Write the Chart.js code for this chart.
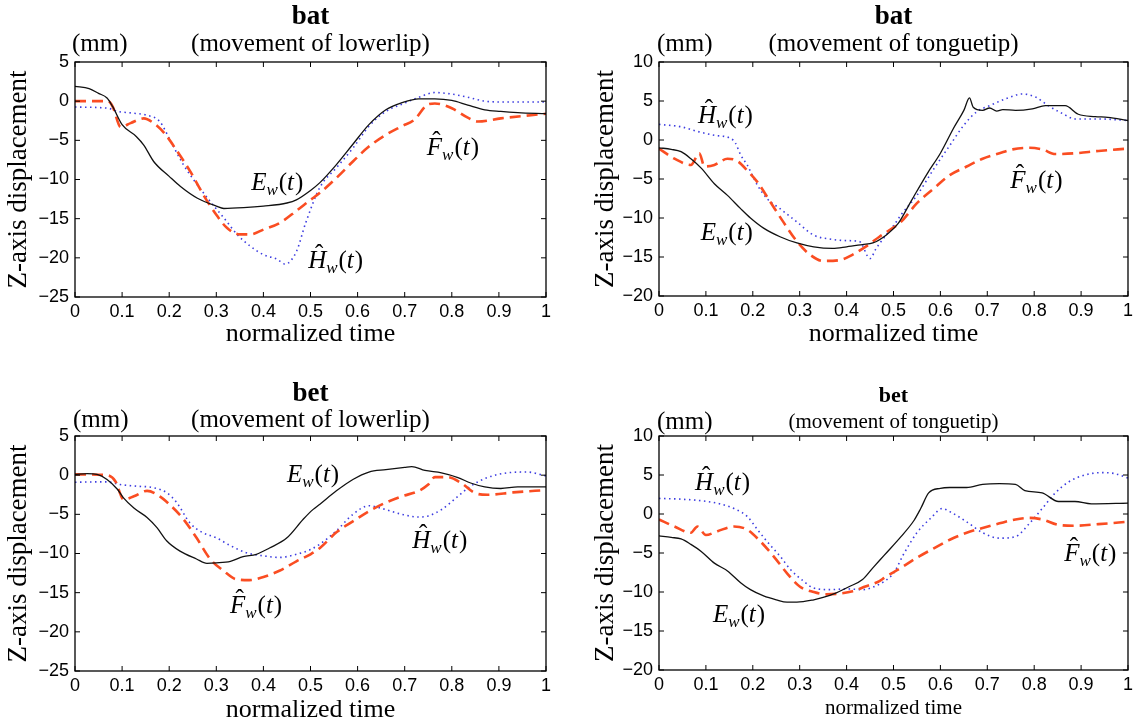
<!DOCTYPE html>
<html>
<head>
<meta charset="utf-8">
<script src="https://cdn.jsdelivr.net/npm/chart.js@4.4.1/dist/chart.umd.min.js"></script>
<style>
  body { margin: 0; background: #fff; width: 1137px; height: 723px; position: relative; overflow: hidden; }
  canvas { position: absolute; }
</style>
</head>
<body>
<canvas id="c1" width="568" height="361" style="left:0;top:0"></canvas>
<canvas id="c2" width="569" height="361" style="left:568px;top:0"></canvas>
<canvas id="c3" width="568" height="362" style="left:0;top:361px"></canvas>
<canvas id="c4" width="569" height="362" style="left:568px;top:361px"></canvas>
<script>
// [normalized time, displacement in mm]
const batLipE = [[0,1.9],[0.03,1.6],[0.05,1.0],[0.068,0.4],[0.08,-0.7],[0.1,-3.0],[0.13,-4.5],[0.146,-5.6],[0.167,-7.7],[0.2,-9.6],[0.224,-10.9],[0.26,-12.4],[0.3,-13.4],[0.316,-13.7],[0.358,-13.6],[0.4,-13.4],[0.45,-13.0],[0.47,-12.6],[0.5,-11.4],[0.52,-10.4],[0.555,-8.1],[0.59,-5.5],[0.624,-3.0],[0.66,-1.1],[0.694,-0.2],[0.73,0.3],[0.764,0.3],[0.8,0.1],[0.834,-0.5],[0.87,-1.1],[0.904,-1.3],[0.94,-1.45],[1,-1.6]];
const batLipF = [[0,0],[0.07,0],[0.08,-0.7],[0.097,-3.3],[0.118,-2.8],[0.146,-2.2],[0.167,-2.8],[0.19,-4.1],[0.217,-6.4],[0.245,-9.0],[0.273,-12.0],[0.3,-14.5],[0.323,-16.2],[0.35,-17.0],[0.372,-17.0],[0.4,-16.4],[0.436,-15.5],[0.47,-14.0],[0.5,-12.6],[0.52,-11.7],[0.555,-9.8],[0.59,-7.7],[0.624,-5.8],[0.66,-4.3],[0.694,-3.2],[0.72,-2.4],[0.75,-0.4],[0.764,-0.3],[0.8,-0.9],[0.834,-2.1],[0.855,-2.6],[0.904,-2.2],[1,-1.6]];
const batLipH = [[0,-0.75],[0.07,-0.9],[0.09,-1.3],[0.118,-1.5],[0.153,-1.8],[0.18,-2.6],[0.203,-5.1],[0.23,-8.1],[0.26,-10.7],[0.287,-12.8],[0.316,-14.9],[0.344,-17.0],[0.372,-18.5],[0.4,-19.6],[0.43,-20.2],[0.446,-20.8],[0.47,-19.2],[0.49,-15.5],[0.52,-11.0],[0.555,-8.5],[0.59,-6.0],[0.624,-3.2],[0.66,-1.3],[0.694,-0.4],[0.73,0.5],[0.764,1.1],[0.8,0.9],[0.834,0.5],[0.87,0],[0.904,-0.1],[1,-0.1]];

const batTongueE = [[0,-1.0],[0.026,-1.2],[0.047,-1.5],[0.068,-2.4],[0.09,-3.6],[0.118,-5.6],[0.146,-7.1],[0.174,-8.8],[0.195,-10.0],[0.223,-11.3],[0.258,-12.4],[0.294,-13.2],[0.33,-13.7],[0.37,-13.9],[0.4,-13.7],[0.434,-13.4],[0.456,-13.2],[0.484,-12.2],[0.51,-10.7],[0.537,-7.9],[0.572,-4.3],[0.6,-1.7],[0.628,1.5],[0.65,3.8],[0.662,5.4],[0.67,4.2],[0.69,3.8],[0.705,4.1],[0.72,3.7],[0.733,3.9],[0.76,3.8],[0.796,4.0],[0.824,4.4],[0.866,4.4],[0.894,3.3],[0.93,3.0],[0.957,2.9],[1,2.5]];
const batTongueF = [[0,-1.1],[0.033,-2.4],[0.068,-3.2],[0.086,-1.7],[0.097,-3.4],[0.118,-3.2],[0.146,-2.4],[0.167,-2.7],[0.188,-3.9],[0.21,-5.4],[0.237,-7.9],[0.265,-10.5],[0.294,-13.0],[0.322,-14.7],[0.35,-15.5],[0.385,-15.4],[0.413,-14.7],[0.44,-13.7],[0.47,-12.4],[0.49,-11.6],[0.516,-10.5],[0.55,-8.1],[0.586,-6.2],[0.62,-4.5],[0.656,-3.4],[0.69,-2.4],[0.726,-1.7],[0.754,-1.2],[0.79,-1.0],[0.817,-1.2],[0.845,-1.8],[0.887,-1.7],[0.937,-1.4],[1,-1.1]];
const batTongueH = [[0,2.0],[0.047,1.7],[0.082,1.1],[0.118,0.6],[0.153,0.2],[0.163,-0.4],[0.174,-1.9],[0.188,-3.2],[0.21,-5.8],[0.23,-7.5],[0.258,-8.8],[0.294,-10.5],[0.33,-12.2],[0.364,-12.7],[0.4,-12.9],[0.427,-13.0],[0.45,-15.2],[0.463,-13.9],[0.484,-12.2],[0.5,-11.0],[0.516,-9.6],[0.55,-7.1],[0.586,-3.7],[0.62,-0.7],[0.65,1.9],[0.677,3.6],[0.705,4.4],[0.74,5.3],[0.775,5.9],[0.803,5.5],[0.83,4.4],[0.86,3.4],[0.887,2.7],[0.937,2.7],[1,2.5]];

const betLipE = [[0,0.1],[0.026,0.2],[0.047,0.1],[0.068,-0.55],[0.09,-1.8],[0.103,-2.9],[0.125,-4.2],[0.153,-5.4],[0.174,-6.7],[0.195,-8.4],[0.223,-9.7],[0.258,-10.7],[0.28,-11.25],[0.3,-11.2],[0.33,-11.0],[0.357,-10.4],[0.385,-10.1],[0.413,-9.3],[0.45,-8.0],[0.485,-5.6],[0.505,-4.4],[0.52,-3.7],[0.555,-2.0],[0.59,-0.55],[0.624,0.4],[0.66,0.7],[0.7,1.0],[0.715,1.1],[0.743,0.6],[0.778,0.3],[0.813,-0.3],[0.84,-1.0],[0.87,-1.5],[0.904,-1.7],[0.94,-1.5],[1,-1.5]];
const betLipF = [[0,0.1],[0.068,0],[0.086,-0.8],[0.103,-3.1],[0.125,-2.7],[0.153,-2.0],[0.18,-2.7],[0.2,-3.7],[0.23,-5.6],[0.258,-8.0],[0.287,-10.7],[0.315,-12.2],[0.343,-13.3],[0.37,-13.4],[0.4,-13.0],[0.434,-12.2],[0.47,-11.0],[0.5,-10.1],[0.52,-9.3],[0.555,-7.3],[0.59,-5.9],[0.624,-4.6],[0.66,-3.5],[0.694,-2.7],[0.73,-2.0],[0.75,-1.2],[0.764,-0.25],[0.79,-0.25],[0.82,-1.0],[0.848,-2.25],[0.876,-2.5],[0.93,-2.2],[1,-1.9]];
const betLipH = [[0,-0.9],[0.068,-0.85],[0.096,-1.2],[0.13,-1.4],[0.167,-1.6],[0.195,-2.25],[0.216,-3.5],[0.244,-6.1],[0.27,-7.3],[0.3,-8.0],[0.33,-9.0],[0.364,-9.9],[0.4,-10.3],[0.434,-10.5],[0.47,-10.1],[0.5,-9.5],[0.52,-8.8],[0.555,-7.1],[0.59,-5.0],[0.624,-3.9],[0.66,-4.4],[0.694,-5.0],[0.73,-5.35],[0.75,-5.2],[0.778,-4.4],[0.813,-2.7],[0.84,-1.4],[0.876,-0.3],[0.918,0.3],[0.96,0.4],[1,-0.1]];

const betTongueE = [[0,-2.8],[0.026,-3.0],[0.047,-3.2],[0.068,-3.9],[0.09,-4.8],[0.118,-6.3],[0.146,-7.3],[0.174,-8.8],[0.195,-9.7],[0.223,-10.5],[0.25,-11.0],[0.273,-11.3],[0.294,-11.3],[0.33,-11.0],[0.35,-10.7],[0.378,-10.1],[0.406,-9.3],[0.434,-8.4],[0.456,-6.9],[0.48,-5.3],[0.516,-2.9],[0.544,-0.8],[0.558,0.7],[0.575,2.7],[0.6,3.3],[0.62,3.4],[0.656,3.4],[0.69,3.8],[0.726,3.9],[0.76,3.8],[0.78,3.0],[0.817,2.7],[0.852,1.6],[0.887,1.6],[0.922,1.3],[1,1.4]];
const betTongueF = [[0,-0.7],[0.033,-1.6],[0.068,-2.4],[0.082,-1.6],[0.1,-2.7],[0.125,-2.2],[0.16,-1.6],[0.188,-2.0],[0.216,-3.5],[0.244,-5.4],[0.273,-7.6],[0.3,-9.3],[0.33,-10.0],[0.357,-10.3],[0.385,-10.2],[0.413,-9.9],[0.44,-9.3],[0.47,-8.6],[0.48,-8.2],[0.516,-6.9],[0.55,-5.6],[0.586,-4.4],[0.62,-3.3],[0.656,-2.4],[0.69,-1.8],[0.726,-1.2],[0.76,-0.7],[0.79,-0.5],[0.817,-0.7],[0.852,-1.4],[0.887,-1.5],[0.937,-1.3],[1,-1.0]];
const betTongueH = [[0,2.0],[0.047,1.9],[0.09,1.7],[0.13,1.3],[0.167,0.5],[0.188,-0.3],[0.21,-2.0],[0.23,-3.5],[0.258,-5.4],[0.28,-7.1],[0.308,-8.6],[0.33,-9.5],[0.364,-9.7],[0.4,-9.6],[0.434,-9.7],[0.47,-9.0],[0.49,-8.2],[0.5,-7.6],[0.523,-5.0],[0.55,-2.4],[0.58,-0.5],[0.604,0.7],[0.62,0.3],[0.656,-1.0],[0.69,-2.4],[0.726,-3.1],[0.76,-2.9],[0.79,-1.2],[0.817,0.7],[0.845,2.7],[0.873,4.1],[0.908,5.0],[0.943,5.3],[0.97,5.2],[1,4.6]];

const seriesNames = ['E', 'F', 'H'];

const SERIF = '"Liberation Serif", "Times New Roman", serif';
const SANS = '"Liberation Sans", Arial, sans-serif';

const styles = {
  E: { color: '#111', width: 1.3, dash: [] },
  F: { color: '#fa4d22', width: 2.6, dash: [11, 6] },
  H: { color: '#3c3ce0', width: 1.6, dash: [1.5, 3.5] }
};

// panel layout; label anchors are in data units (left / baseline of the text)
const panels = [
  { id: 'c1', pad: { l: 75, t: 62, r: 22, b: 64 }, yMin: -25, yMax: 5,
    title: 'bat', sub: '(movement of lowerlip)', titleY: 17, subY: 44, mmX: 72,
    yTitleX: 19, xTitlePad: 14, scale: 1,
    data: [batLipE, batLipF, batLipH],
    notes: [['E', 0.374, -11.3], ['H', 0.495, -21.3], ['F', 0.747, -6.9]] },
  { id: 'c2', pad: { l: 91, t: 62, r: 8, b: 65 }, yMin: -20, yMax: 10,
    title: 'bat', sub: '(movement of tonguetip)', titleY: 17, subY: 44, mmX: 89,
    yTitleX: 38, xTitlePad: 14, scale: 1,
    data: [batTongueE, batTongueF, batTongueH],
    notes: [['H', 0.083, 2.2], ['E', 0.089, -12.8], ['F', 0.749, -6.15]] },
  { id: 'c3', pad: { l: 75, t: 75, r: 22, b: 52 }, yMin: -25, yMax: 5,
    title: 'bet', sub: '(movement of lowerlip)', titleY: 33, subY: 59, mmX: 73,
    yTitleX: 19, xTitlePad: 0, scale: 1,
    data: [betLipE, betLipF, betLipH],
    notes: [['E', 0.45, -0.9], ['H', 0.716, -9.3], ['F', 0.329, -17.6]] },
  { id: 'c4', pad: { l: 91, t: 75, r: 8, b: 53 }, yMin: -20, yMax: 10,
    title: 'bet', sub: '(movement of tonguetip)', titleY: 35, subY: 61, mmX: 89,
    yTitleX: 38, xTitlePad: 4, scale: 0.82,
    data: [betTongueE, betTongueF, betTongueH],
    notes: [['H', 0.077, 3.1], ['E', 0.115, -13.85], ['F', 0.864, -6.0]] }
];

function drawMath(ctx, x, y, letter, hat) {
  ctx.textAlign = 'left';
  ctx.textBaseline = 'alphabetic';
  ctx.font = 'italic 25px ' + SERIF;
  ctx.fillText(letter, x, y);
  const w = ctx.measureText(letter).width;
  if (hat) {
    ctx.font = '25px ' + SERIF;
    const hw = ctx.measureText('\u02C6').width;
    ctx.fillText('\u02C6', x + w / 2 - hw / 2 + 2, y - 6);
  }
  let cx = x + w;
  ctx.font = 'italic 17px ' + SERIF;
  ctx.fillText('w', cx, y + 5);
  cx += ctx.measureText('w').width + 1;
  ctx.font = '25px ' + SERIF;
  ctx.fillText('(', cx, y);
  cx += ctx.measureText('(').width;
  ctx.font = 'italic 25px ' + SERIF;
  ctx.fillText('t', cx, y);
  cx += ctx.measureText('t').width + 1;
  ctx.font = '25px ' + SERIF;
  ctx.fillText(')', cx, y);
}

function makeFrame(p) {
  return {
    id: 'frame',
    afterDraw(chart) {
      const { ctx, chartArea: a, scales: { x, y } } = chart;
      ctx.save();
      ctx.strokeStyle = '#000';
      ctx.lineWidth = 1.3;
      ctx.strokeRect(a.left, a.top, a.right - a.left, a.bottom - a.top);
      ctx.lineWidth = 1;
      ctx.beginPath();
      x.ticks.forEach(t => {
        const px = x.getPixelForValue(t.value);
        ctx.moveTo(px, a.bottom); ctx.lineTo(px, a.bottom - 5);
        ctx.moveTo(px, a.top); ctx.lineTo(px, a.top + 5);
      });
      y.ticks.forEach(t => {
        const py = y.getPixelForValue(t.value);
        ctx.moveTo(a.left, py); ctx.lineTo(a.left + 5, py);
        ctx.moveTo(a.right, py); ctx.lineTo(a.right - 5, py);
      });
      ctx.stroke();

      ctx.fillStyle = '#000';
      const cx = (a.left + a.right) / 2;
      ctx.textAlign = 'center';
      ctx.textBaseline = 'middle';
      ctx.font = 'bold ' + Math.round(27 * p.scale) + 'px ' + SERIF;
      ctx.fillText(p.title, cx, p.titleY);
      ctx.font = Math.round(25 * p.scale) + 'px ' + SERIF;
      ctx.fillText(p.sub, cx, p.subY);
      ctx.textAlign = 'left';
      ctx.font = '25px ' + SERIF;
      ctx.fillText('(mm)', p.mmX, p.subY);

      p.notes.forEach(([name, t, v]) => {
        drawMath(ctx, x.getPixelForValue(t), y.getPixelForValue(v), name, name !== 'E');
      });
      ctx.restore();
    }
  };
}

panels.forEach(p => {
  const datasets = p.data.map((pts, i) => {
    const s = styles[seriesNames[i]];
    return {
      label: seriesNames[i],
      data: pts.map(([t, v]) => ({ x: t, y: v })),
      borderColor: s.color,
      borderWidth: s.width,
      borderDash: s.dash,
      pointRadius: 0,
      fill: false,
      cubicInterpolationMode: 'monotone'
    };
  });

  new Chart(document.getElementById(p.id), {
    type: 'line',
    data: { datasets },
    options: {
      responsive: false,
      animation: false,
      layout: { padding: { left: 0, top: p.pad.t, right: p.pad.r, bottom: 0 } },
      plugins: { legend: { display: false }, tooltip: { enabled: false }, title: { display: false } },
      scales: {
        x: {
          type: 'linear', min: 0, max: 1,
          grid: { display: false, drawTicks: false },
          border: { display: false },
          ticks: {
            stepSize: 0.1, autoSkip: false, maxRotation: 0, padding: 4,
            color: '#000', font: { family: SANS, size: 18 },
            callback: v => String(Math.round(v * 10) / 10)
          },
          title: {
            display: true, text: 'normalized time', color: '#000',
            font: { family: SERIF, size: Math.round(26 * p.scale), lineHeight: 1 },
            padding: { top: 0, bottom: p.xTitlePad }
          },
          afterFit: s => { s.height = p.pad.b; }
        },
        y: {
          min: p.yMin, max: p.yMax,
          grid: { display: false, drawTicks: false },
          border: { display: false },
          ticks: {
            stepSize: 5, padding: 6, color: '#000', font: { family: SANS, size: 18 },
            callback: v => v < 0 ? '\u2212' + Math.abs(v) : String(v)
          },
          title: {
            display: true, text: 'Z-axis displacement', color: '#000',
            font: { family: SERIF, size: 27, lineHeight: 1 },
            padding: { top: p.yTitleX - 13.5, bottom: 0 }
          },
          afterFit: s => { s.width = p.pad.l; }
        }
      }
    },
    plugins: [makeFrame(p)]
  });
});
</script>
</body>
</html>
